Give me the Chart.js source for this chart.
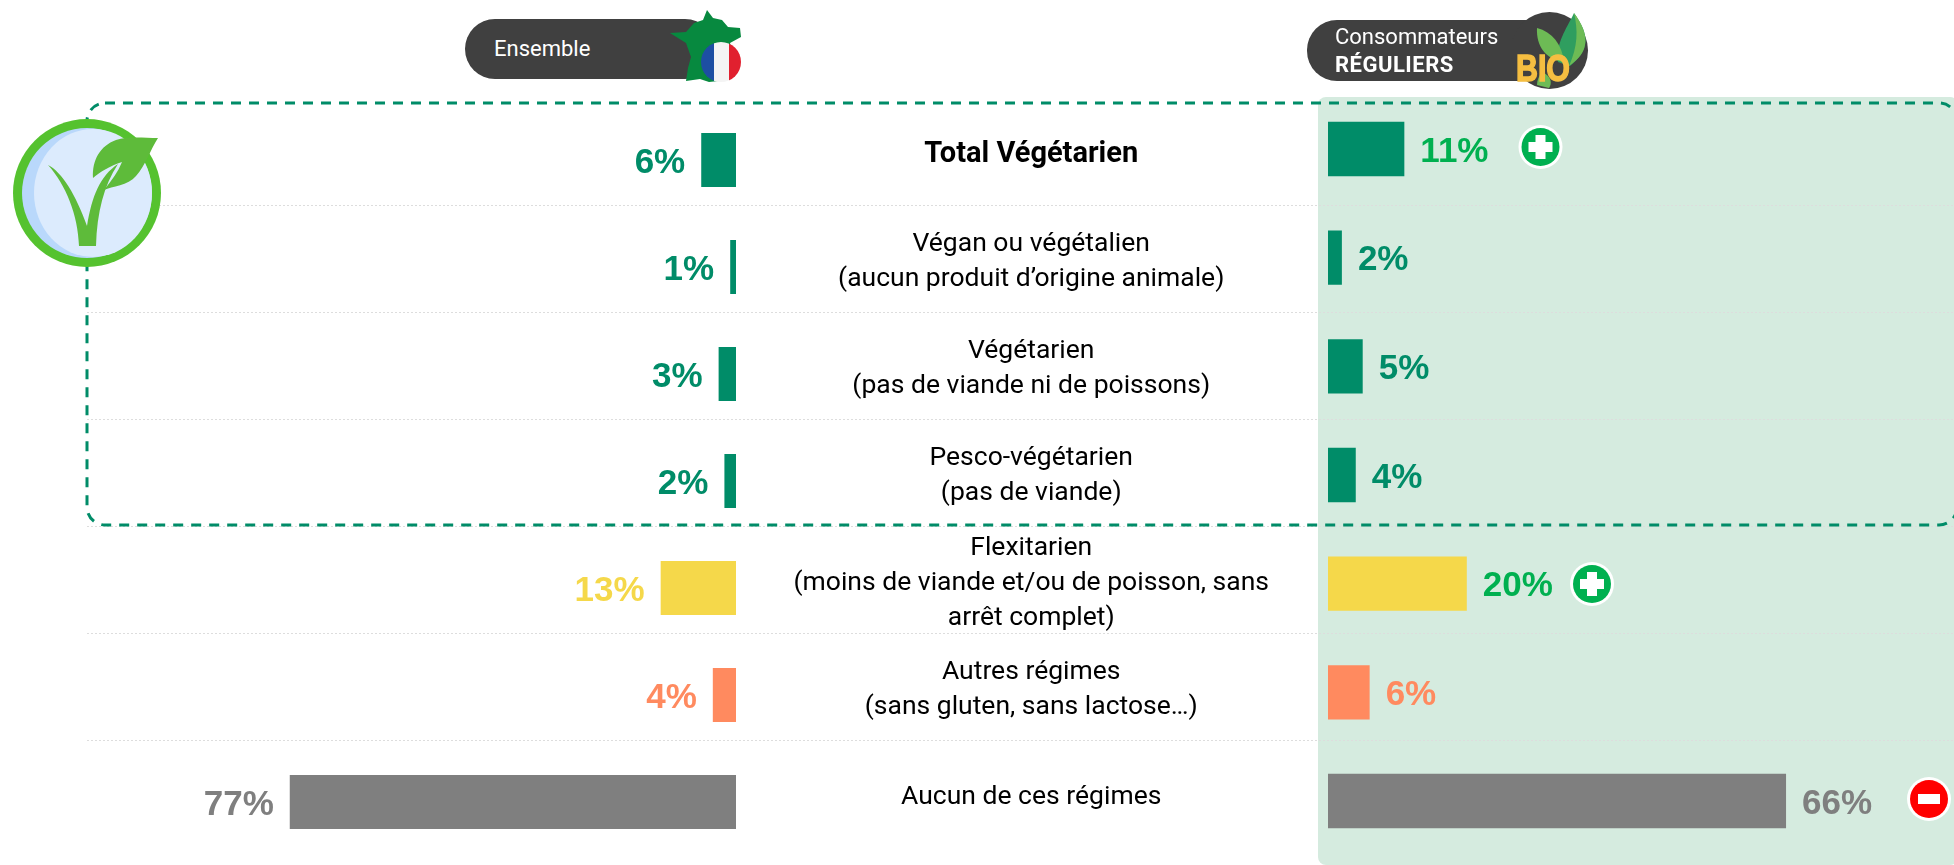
<!DOCTYPE html>
<html lang="fr">
<head>
<meta charset="utf-8">
<title>Régimes alimentaires</title>
<script src="https://cdn.jsdelivr.net/npm/chart.js@4"></script>
<style>
  html,body{margin:0;padding:0;background:#fff;overflow:hidden}
  #page{position:relative;width:1954px;height:865px;font-family:Roboto,sans-serif}
  #panel{position:absolute;left:1318px;top:97px;width:640px;height:768px;background:#D5EBDF;border-radius:8px}
  .box{position:absolute}
  .deco{position:absolute;left:0;top:0;width:1954px;height:865px;pointer-events:none}
  .pill{position:absolute;background:#404040;color:#fff;border-radius:30px;font-size:22px}
  .pill span{position:absolute;white-space:nowrap;line-height:26px}
</style>
</head>
<body>
<div id="page">
  <div id="panel"></div>
  <div class="box" id="gridBox" style="left:87px;top:0;width:1867px;height:865px"><canvas id="gridChart"></canvas></div>

  <!-- cadre pointillé -->
  <svg class="deco"><rect x="87" y="103" width="1870" height="422" rx="18" fill="none" stroke="#008C68" stroke-width="3" stroke-dasharray="10 8"/></svg>

  <div class="box" id="leftBox" style="left:0;top:0;width:1328px;height:865px"><canvas id="leftChart"></canvas></div>
  <div class="box" id="rightBox" style="left:1328px;top:0;width:626px;height:865px"><canvas id="rightChart"></canvas></div>

  <div class="pill" style="left:465px;top:19px;width:250px;height:60px"><span style="left:29px;top:17px">Ensemble</span></div>
  <div class="pill" style="left:1307px;top:20px;width:250px;height:61px">
    <span style="left:28px;top:4px">Consommateurs</span>
    <span style="left:28px;top:32px;font-weight:700;letter-spacing:.5px">RÉGULIERS</span>
  </div>

  <svg class="deco">
    <!-- France -->
    <path d="M707 10L713 18L722 20L728 27L740 28L741 37L730 43L733 55L737 68L728 80L709 82L700 79L686 81L688 68L691 57L686 43L670 33L686 32L694 23L703 20Z" fill="#07893F"/>
    <clipPath id="flag"><circle cx="721" cy="62" r="20"/></clipPath>
    <g clip-path="url(#flag)">
      <rect x="700" y="40" width="14" height="44" fill="#1D4FA3"/>
      <rect x="714" y="40" width="15" height="44" fill="#F4F4F4"/>
      <rect x="729" y="40" width="14" height="44" fill="#E1202F"/>
    </g>

    <!-- BIO -->
    <circle cx="1549.5" cy="50.5" r="38.5" fill="#404040"/>
    <path d="M1574 13C1590 35 1590 50 1570 66L1558 62C1556 42 1566 30 1574 13Z" fill="#2F9E5F"/>
    <path d="M1574 13C1590 35 1590 52 1569 66C1578 46 1578 30 1574 13Z" fill="#6DBB55"/>
    <path d="M1537 28C1552 32 1562 44 1564 62C1546 60 1536 46 1537 28Z" fill="#6DBB55"/>
    <path d="M1542 72C1552 76 1552 84 1549 88L1537 85C1537 80 1539 76 1542 72Z" fill="#6DBB55"/>
    <text x="1516" y="81" font-family="Liberation Sans" font-weight="700" font-size="37" fill="#F5BE41" stroke="#F5BE41" stroke-width="1.5" textLength="54" lengthAdjust="spacingAndGlyphs">BIO</text>

    <!-- logo végétarien -->
    <circle cx="87" cy="193" r="74" fill="#55C22F"/>
    <circle cx="87" cy="193" r="65" fill="#B9D8FB"/>
    <ellipse cx="93" cy="193" rx="59" ry="64" fill="#DCEBFD"/>
    <path d="M48 165C62 172 76 195 87 226C92 196 100 176 118 164C104 185 97 212 96 246L79 246C78 215 66 185 48 165Z" fill="#5EBB3A"/>
    <path d="M158 138C150 150 146 165 136 176C128 186 112 186 104 190C112 180 118 172 122 162C110 166 100 172 93 178C92 160 100 146 116 140C128 136 144 138 158 138Z" fill="#5EBB3A"/>

    <!-- écarts significatifs -->
    <circle cx="1540.5" cy="147" r="22" fill="#fff"/><circle cx="1540.5" cy="147" r="19" fill="#00B050"/>
    <path d="M1535.5 135h10v7h7v10h-7v7h-10v-7h-7v-10h7z" fill="#fff"/>
    <circle cx="1592" cy="584" r="22" fill="#fff"/><circle cx="1592" cy="584" r="19" fill="#00B050"/>
    <path d="M1587 572h10v7h7v10h-7v7h-10v-7h-7v-10h7z" fill="#fff"/>
    <circle cx="1929" cy="799" r="22" fill="#fff"/><circle cx="1929" cy="799" r="19" fill="#FF0000"/>
    <rect x="1918" y="794" width="22" height="10" fill="#fff"/>
  </svg>
</div>

<script>
const categories = [
  'Total Végétarien',
  ['Végan ou végétalien', '(aucun produit d’origine animale)'],
  ['Végétarien', '(pas de viande ni de poissons)'],
  ['Pesco-végétarien', '(pas de viande)'],
  ['Flexitarien', '(moins de viande et/ou de poisson, sans', 'arrêt complet)'],
  ['Autres régimes', '(sans gluten, sans lactose…)'],
  'Aucun de ces régimes'
];
const ensemble = [6, 1, 3, 2, 13, 4, 77];
const reguliers = [11, 2, 5, 4, 20, 6, 66];

const barColors = ['#008C68','#008C68','#008C68','#008C68','#F5D84A','#FF8A5F','#7F7F7F'];
const leftLabelColors = ['#008C68','#008C68','#008C68','#008C68','#F5D84A','#FF8A5F','#7F7F7F'];
const rightLabelColors = ['#00B050','#008C68','#008C68','#008C68','#00B050','#FF8A5F','#7F7F7F'];

Chart.defaults.animation = false;
Chart.defaults.responsive = true;
Chart.defaults.maintainAspectRatio = false;
Chart.defaults.plugins.legend.display = false;
Chart.defaults.plugins.tooltip.enabled = false;

// valeurs en % à côté des barres
function valueLabels(colors, side){
  return {
    id:'valueLabels',
    afterDatasetsDraw(chart){
      const ctx = chart.ctx;
      const ds = chart.data.datasets[0];
      ctx.save();
      ctx.font = 'bold 35px "Liberation Sans"';
      ctx.textBaseline = 'middle';
      ctx.textAlign = side === 'left' ? 'right' : 'left';
      chart.getDatasetMeta(0).data.forEach((bar,i)=>{
        ctx.fillStyle = colors[i];
        ctx.fillText(ds.data[i] + '%', bar.x + (side === 'left' ? -16 : 16), bar.y + 3);
      });
      ctx.restore();
    }
  };
}

// lignes pointillées entre les rangées
new Chart(document.getElementById('gridChart'), {
  type:'bar',
  data:{labels:categories, datasets:[]},
  options:{
    indexAxis:'y',
    layout:{padding:{top:98,bottom:18}},
    scales:{
      x:{display:false},
      y:{
        ticks:{display:false},
        border:{display:false, dash:[2,2]},
        grid:{
          drawTicks:false,
          lineWidth:1,
          color:ctx=>(ctx.type !== 'tick' || ctx.index === 0) ? 'rgba(0,0,0,0)' : '#DDDDDD'
        },
        afterFit(scale){ scale.width = 0; }
      }
    }
  }
});

new Chart(document.getElementById('leftChart'), {
  type:'bar',
  data:{labels:categories, datasets:[{data:ensemble, backgroundColor:barColors, categoryPercentage:1, barPercentage:0.505}]},
  options:{
    indexAxis:'y',
    layout:{padding:{top:106.5,bottom:9.5}},
    scales:{
      x:{display:false, reverse:true, min:0, max:127},
      y:{
        position:'right',
        border:{display:false},
        grid:{display:false, drawTicks:false},
        ticks:{
          color:'#000',
          crossAlign:'center',
          labelOffset:-5,
          padding:57.5,
          autoSkip:false,
          font:ctx=>({family:'Roboto', size:ctx.index === 0 ? 29 : 26.5, lineHeight:'35px', weight:ctx.index === 0 ? '700' : '400'})
        },
        afterFit(scale){
          scale.width = 592;
          // pas de marge en plus pour les étiquettes sur plusieurs lignes
          scale.paddingTop = 0;
          scale.paddingBottom = 0;
        }
      }
    }
  },
  plugins:[valueLabels(leftLabelColors,'left')]
});

new Chart(document.getElementById('rightChart'), {
  type:'bar',
  data:{labels:categories, datasets:[{data:reguliers, backgroundColor:barColors, categoryPercentage:1, barPercentage:0.5}]},
  options:{
    indexAxis:'y',
    layout:{padding:{top:94.7,bottom:9.7}},
    scales:{
      x:{display:false, min:0, max:90.2},
      y:{display:false}
    }
  },
  plugins:[valueLabels(rightLabelColors,'right')]
});
</script>
</body>
</html>
